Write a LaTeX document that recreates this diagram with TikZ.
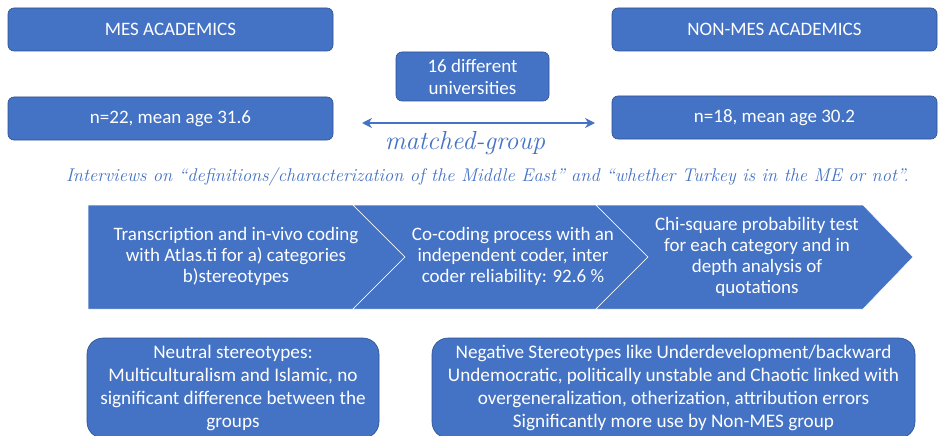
\documentclass[tikz,border=0pt]{standalone}
\usepackage{fontspec}
\usetikzlibrary{arrows.meta}
\newfontfamily\calib{Carlito}
\definecolor{obl}{HTML}{4472C4}
\definecolor{obd}{HTML}{2F528F}
\begin{document}
\begin{tikzpicture}[x=1pt,y=-1pt,
  topbox/.style={draw=obd, line width=0.6pt, fill=obl, rounded corners=6pt, text=white,
    font=\calib\fontsize{19}{22}\selectfont, align=center, inner sep=0pt},
  botbox/.style={draw=obd, line width=0.6pt, fill=obl, rounded corners=16pt, text=white,
    font=\calib\fontsize{19.2}{23.3}\selectfont, align=center, inner sep=0pt},
  chevtext/.style={text=white, font=\calib\fontsize{19}{21}\selectfont, align=center, inner sep=0pt},
  chev/.style={fill=obl, draw=white, line width=0.5pt},
  scripttext/.style={text=obl, font=\itshape, inner sep=0pt},
  dbl/.style={<->, >={Stealth[length=10pt,width=10pt]}, draw=obl, line width=2.6pt}
]
\useasboundingbox (0,0) rectangle (938,436);
\clip (0,0) rectangle (938,436);
\fill[white] (0,0) rectangle (938,436);

% top boxes
\node[topbox, minimum width=325pt, minimum height=43pt] (mes) at (170.5,29.5) {MES ACADEMICS};
\node[topbox, minimum width=325pt, minimum height=43pt] (mesn) at (170.5,118.5) {n=22, mean age 31.6};
\node[topbox, minimum width=325pt, minimum height=43pt] (non) at (774.5,29.5) {NON-MES ACADEMICS};
\node[topbox, minimum width=325pt, minimum height=43pt] (nonn) at (774.5,117.5) {n=18, mean age 30.2};
\node[topbox, minimum width=153pt, minimum height=49pt] (uni) at (472.5,76.5) {16 different\\universities};

% matched-group arrow
\coordinate (al) at (362,123);
\coordinate (ar) at (595,123);
\draw[dbl] (al) -- (ar);
\node[scripttext, font=\itshape\fontsize{26}{30}\selectfont] (mg) at (465,143) {matched-group};

\node[scripttext, font=\itshape\fontsize{18.4}{20}\selectfont] (intv) at (487.5,177)
  {Interviews on “definitions/characterization of the Middle East” and “whether Turkey is in the ME or not”.};

% chevrons
\path[chev] (88,205) -- (353,205) -- (405,257) -- (353,309) -- (88,309) -- cycle;
\path[chev] (353,205) -- (596,205) -- (648,257) -- (596,309) -- (353,309) -- (405,257) -- cycle;
\path[chev] (596,205) -- (863,205) -- (913,257) -- (863,309) -- (596,309) -- (648,257) -- cycle;
\node[chevtext] (c1) at (236,256) {Transcription and in-vivo coding\\with Atlas.ti for a) categories\\b)stereotypes};
\node[chevtext] (c2) at (513,256) {Co-coding process with an\\independent coder, inter\\coder reliability: 92.6 \%};
\node[chevtext] (c3) at (757,257) {Chi-square probability test\\for each category and in\\depth analysis of\\quotations};

% bottom boxes
\node[botbox, minimum width=292pt, minimum height=100pt] (neu) at (233,388) {Neutral stereotypes:\\Multiculturalism and Islamic, no\\significant difference between the\\groups};
\node[botbox, minimum width=483pt, minimum height=100pt] (neg) at (673.5,388) {Negative Stereotypes like Underdevelopment/backward\\Undemocratic, politically unstable and Chaotic linked with\\overgeneralization, otherization, attribution errors\\Significantly more use by Non-MES group};
\end{tikzpicture}
\end{document}
